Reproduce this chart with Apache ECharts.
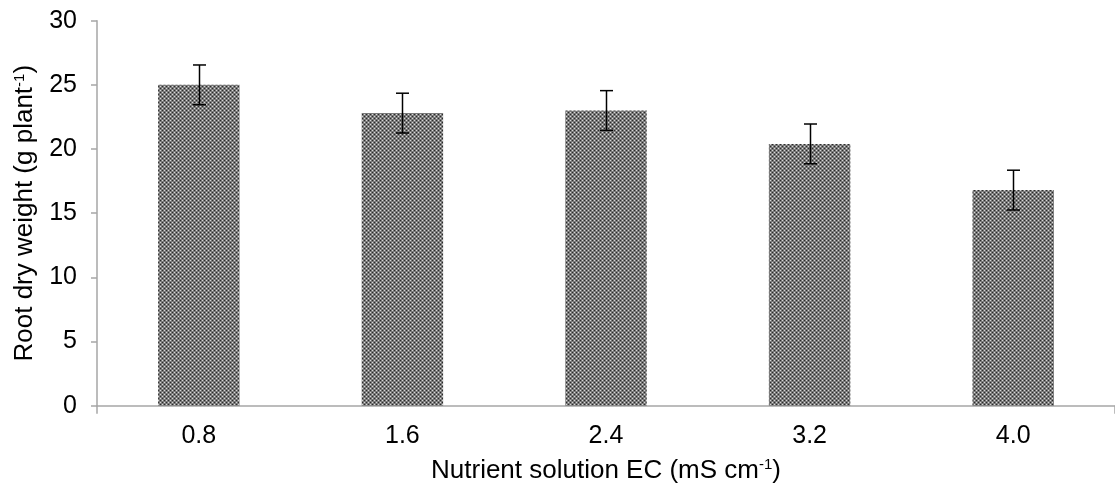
<!DOCTYPE html>
<html>
<head>
<meta charset="utf-8">
<script src="https://cdn.jsdelivr.net/npm/echarts@6/dist/echarts.min.js"></script>
<style>
html,body{margin:0;padding:0;background:#fff;}
#chart{width:1115px;height:491px;}
</style>
</head>
<body>
<div id="chart"></div>
<script>
const categories = ['0.8', '1.6', '2.4', '3.2', '4.0'];
const rootDryWeight = [25.0, 22.8, 23.0, 20.4, 16.8];
const errors = [1.55, 1.55, 1.55, 1.55, 1.55];
const yTicks = [0, 5, 10, 15, 20, 25, 30];

// checker pattern for bars
const pc = document.createElement('canvas');
pc.width = 4; pc.height = 4;
const pctx = pc.getContext('2d');
pctx.fillStyle = '#7a7a7a'; pctx.fillRect(0, 0, 4, 4);
pctx.fillStyle = '#2a2a2a'; pctx.fillRect(0, 0, 1, 1); pctx.fillRect(2, 2, 1, 1);
pctx.fillStyle = '#d8d8d8'; pctx.fillRect(2, 0, 1, 1); pctx.fillRect(0, 2, 1, 1);

const font = 'Liberation Sans, Arial, sans-serif';
const chart = echarts.init(document.getElementById('chart'));
chart.setOption({
  animation: false,
  backgroundColor: '#fff',
  grid: { left: 97, right: -5, top: 20.7, bottom: 85.3, containLabel: false },
  xAxis: {
    type: 'category',
    data: categories,
    boundaryGap: true,
    axisLine: { lineStyle: { color: '#a6a6a6', width: 1.5 } },
    axisTick: { show: true, length: 8, lineStyle: { color: '#a6a6a6', width: 1.5 },
      interval: function (i) { return i === 0; } },
    axisLabel: { color: '#000', fontSize: 25, fontFamily: font, margin: 18 },
    name: '{a|Nutrient solution EC (mS cm}{s|-1}{a|)}',
    nameLocation: 'middle',
    nameGap: 52,
    nameTextStyle: {
      rich: {
        a: { fontSize: 26, fontFamily: font, color: '#000' },
        s: { fontSize: 15, fontFamily: font, color: '#000', verticalAlign: 'top', padding: [0, 0, 11, 0] }
      }
    }
  },
  yAxis: {
    type: 'value',
    min: yTicks[0], max: yTicks[yTicks.length - 1], interval: 5,
    splitLine: { show: false },
    axisLine: { show: true, lineStyle: { color: '#a6a6a6', width: 1.5 } },
    axisTick: { show: true, length: 6, lineStyle: { color: '#a6a6a6', width: 1.5 } },
    axisLabel: { color: '#000', fontSize: 25, fontFamily: font, margin: 20 },
    name: '{a|Root dry weight (g plant}{s|-1}{a|)}',
    nameLocation: 'middle',
    nameGap: 59,
    nameRotate: 90,
    nameTextStyle: {
      rich: {
        a: { fontSize: 26, fontFamily: font, color: '#000' },
        s: { fontSize: 15, fontFamily: font, color: '#000', verticalAlign: 'top', padding: [0, 0, 11, 0] }
      }
    }
  },
  series: [
    {
      type: 'bar',
      data: rootDryWeight,
      barWidth: '40%',
      itemStyle: { color: { image: pc, repeat: 'repeat' } }
    },
    {
      type: 'custom',
      data: rootDryWeight.map((v, i) => [i, v - errors[i], v + errors[i]]),
      z: 10,
      renderItem: function (params, api) {
        const lo = api.coord([api.value(0), api.value(1)]);
        const hi = api.coord([api.value(0), api.value(2)]);
        const x = Math.round(lo[0]) + 0.5;
        const hw = 6.5;
        const st = { stroke: '#000', lineWidth: 1.5 };
        return {
          type: 'group',
          children: [
            { type: 'line', shape: { x1: x, y1: hi[1], x2: x, y2: lo[1] }, style: st },
            { type: 'line', shape: { x1: x - hw, y1: hi[1], x2: x + hw, y2: hi[1] }, style: st },
            { type: 'line', shape: { x1: x - hw, y1: lo[1], x2: x + hw, y2: lo[1] }, style: st }
          ]
        };
      }
    }
  ]
});
</script>
</body>
</html>
